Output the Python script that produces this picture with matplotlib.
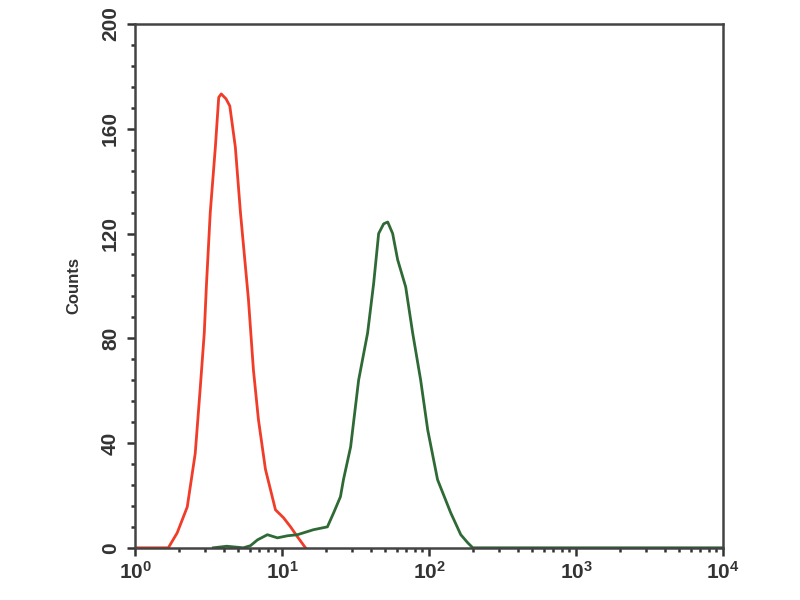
import matplotlib
matplotlib.use('Agg')
import matplotlib.pyplot as plt
from matplotlib.ticker import LogLocator, MultipleLocator, LogFormatterMathtext

# red histogram (control)
red_x = [1.0, 1.68, 1.93, 2.26, 2.56, 2.77, 2.95, 3.05, 3.24, 3.51, 3.70, 3.85,
         4.15, 4.40, 4.80, 5.20, 5.89, 6.37, 6.89, 7.69, 9.00, 10.2, 11.4, 12.7, 14.4]
red_y = [0, 0, 5.7, 15.6, 36, 61, 82, 100, 128, 153, 172, 173.3,
         171.4, 168.7, 153, 128, 95, 68, 49, 30, 14.5, 11.5, 8, 4.2, 0]

# green histogram (antibody)
green_x = [3.40, 4.2, 5.44, 6.08, 6.78, 7.93, 9.28, 10.9, 12.7, 16.3, 20.3, 22.4,
           24.9, 26.1, 29.2, 33.1, 38.1, 41.9, 45.3, 49.0, 52.2, 56.4, 61.0, 69.2,
           77.2, 87.5, 97.7, 114, 140, 164, 183, 198, 1000, 10000]
green_y = [0, 0.6, 0, 0.8, 3, 5, 3.8, 4.6, 5, 6.9, 8, 13.4,
           19.5, 26, 38.5, 64, 82, 101, 120, 123.7, 124.4, 120, 110, 99.6,
           82, 64, 45, 26, 13.4, 5, 1.9, 0, 0, 0]

plt.rcParams['font.family'] = ['Liberation Sans', 'DejaVu Sans']
plt.rcParams['font.weight'] = 'bold'
plt.rcParams['mathtext.fontset'] = 'custom'
plt.rcParams['mathtext.rm'] = 'Liberation Sans:bold'
plt.rcParams['mathtext.bf'] = 'Liberation Sans:bold'
plt.rcParams['mathtext.default'] = 'bf'

fig = plt.figure(figsize=(8, 6), dpi=100)
ax = fig.add_axes([0.169, 0.087, 0.735, 0.873])

ax.plot(red_x, red_y, color='#f03c28', linewidth=2.0)
ax.plot(green_x, green_y, color='#2f6a36', linewidth=2.0)

ax.set_xscale('log')
ax.set_xlim(1, 10000)
ax.set_ylim(0, 200)

ax.xaxis.set_major_locator(LogLocator(base=10, numticks=10))
ax.xaxis.set_minor_locator(LogLocator(base=10, subs=range(2, 10), numticks=20))
ax.xaxis.set_major_formatter(LogFormatterMathtext())
ax.yaxis.set_major_locator(MultipleLocator(40))
ax.yaxis.set_minor_locator(MultipleLocator(8))

for s in ax.spines.values():
    s.set_color('#444444')
    s.set_linewidth(1.8)

ax.tick_params(which='major', direction='out', length=6, width=1.8,
               color='#333333', labelsize=15, labelcolor='#333333')
ax.tick_params(which='minor', direction='out', length=3, width=1.8, color='#333333')
ax.tick_params(axis='y', which='major', labelrotation=90, pad=5)
for lab in ax.get_yticklabels():
    lab.set_verticalalignment('center')

ax.set_ylabel('Counts', fontsize=12, fontweight='bold', color='#333333', labelpad=14)

fig.savefig('out.png', dpi=100)
